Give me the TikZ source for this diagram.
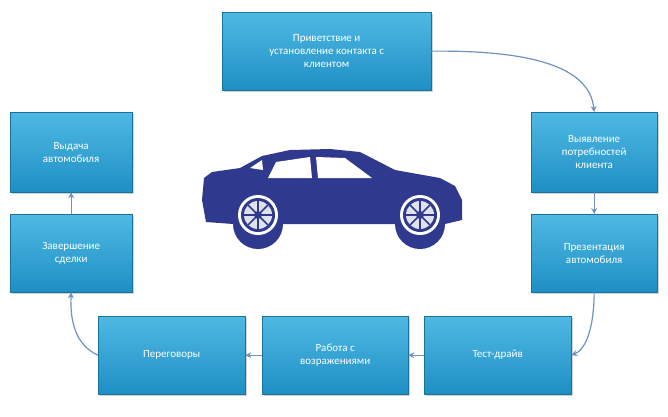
\documentclass[tikz,border=0pt]{standalone}
\usepackage{fontspec}
\setmainfont{Carlito}
\usetikzlibrary{arrows.meta,shadows}
\definecolor{boxtop}{HTML}{4FB9E3}
\definecolor{boxbot}{HTML}{1E8FC4}
\definecolor{arr}{HTML}{6F93BC}
\definecolor{car}{HTML}{2F3A8F}
\tikzset{
 stepbox/.style={rectangle,top color=boxtop,bottom color=boxbot,draw=boxbot!80!black,line width=0.3pt,
   text=white,align=center,font=\fontsize{11}{13}\selectfont,anchor=north west,inner sep=2pt,
   drop shadow={shadow xshift=2pt,shadow yshift=-2pt,opacity=0.35}},
 conn/.style={draw=arr,line width=1.2pt,-{Stealth[length=6pt,width=6pt]}}
}
\begin{document}
\begin{tikzpicture}[x=1pt,y=-1pt]
\useasboundingbox (0,0) rectangle (668,416);
\node[stepbox,minimum width=209pt,minimum height=78pt] (b1) at (222,12) {Приветствие и\\установление контакта с\\клиентом};
\node[stepbox,minimum width=126pt,minimum height=80pt] (b2) at (531,112) {Выявление\\потребностей\\клиента};
\node[stepbox,minimum width=126pt,minimum height=78pt] (b3) at (531,214) {Презентация\\автомобиля};
\node[stepbox,minimum width=147pt,minimum height=78pt] (b4) at (424,316) {Тест-драйв};
\node[stepbox,minimum width=146pt,minimum height=78pt] (b5) at (262,316) {Работа с\\возражениями};
\node[stepbox,minimum width=147pt,minimum height=78pt] (b6) at (98,316) {Переговоры};
\node[stepbox,minimum width=122pt,minimum height=78pt] (b7) at (10,214) {Завершение\\сделки};
\node[stepbox,minimum width=122pt,minimum height=80pt] (b8) at (10,112) {Выдача\\автомобиля};
\draw[conn] (b1.east) .. controls (540,50) and (590,70) .. (b2.north);
\draw[conn] (b2.south) -- (b3.north);
\draw[conn] (b3.south) .. controls (594,330) and (585,350) .. (b4.east);
\draw[conn] (b4.west) -- (b5.east);
\draw[conn] (b5.west) -- (b6.east);
\draw[conn] (b6.west) .. controls (75,345) and (70,320) .. (b7.south);
\draw[conn] (b7.north) -- (b8.south);
% car
\fill[car] (206,222) -- (202,200) -- (204,178) -- (212,172) -- (240,168) -- (262,156) -- (290,150) -- (330,149)
  -- (360,152) -- (395,170) -- (440,178) -- (455,186) -- (462,200) -- (462,220) -- (445,224)
  arc[start angle=0,end angle=180,radius=25] -- (283,224) arc[start angle=0,end angle=180,radius=25] -- cycle;
\fill[white] (268,178) -- (276,162) -- (310,157) -- (312,178) -- cycle;
\fill[white] (318,178) -- (316,157) -- (345,158) -- (372,178) -- cycle;
\fill[white] (250,168) -- (262,160) -- (263,170) -- cycle;
\foreach \cx in {258,420}{
 \fill[white] (\cx,215) circle (20);
 \fill[car] (\cx,215) circle (17);
 \fill[white!85!car] (\cx,215) circle (14);
 \foreach \a in {0,45,...,315} \draw[car,line width=1.5pt] (\cx,215) -- ++(\a:14);
 \fill[car] (\cx,215) circle (4);
}
\end{tikzpicture}
\end{document}
